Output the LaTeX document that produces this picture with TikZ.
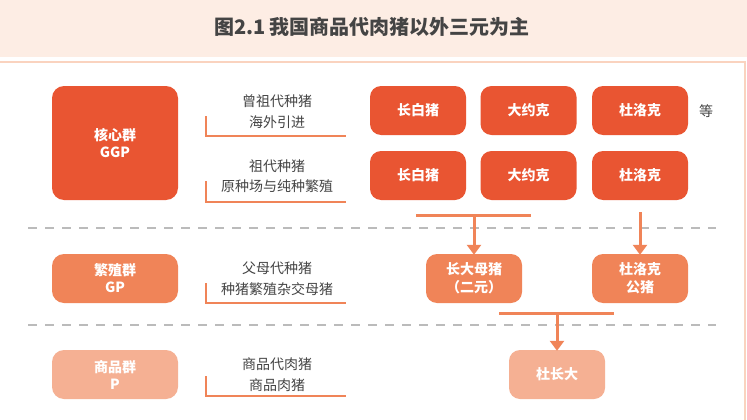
\documentclass[tikz,border=0pt]{standalone}
\usepackage{fontspec}
\setmainfont{Noto Sans CJK SC}
\usetikzlibrary{arrows.meta}
\definecolor{cdark}{HTML}{E95532}
\definecolor{cmid}{HTML}{F08458}
\definecolor{clight}{HTML}{F5B093}
\definecolor{cband}{HTML}{FDEDE4}
\definecolor{cframe}{HTML}{FAD3BF}
\definecolor{ctext}{HTML}{444444}
\definecolor{cdash}{HTML}{BBBBBB}
\tikzset{
  grp/.style={rounded corners=12pt, minimum width=126pt, minimum height=49pt, text=white, font=\bfseries\fontsize{14}{17}\selectfont, align=center, inner sep=0pt},
  pig/.style={rounded corners=11pt, minimum width=96pt, minimum height=49pt, text=white, font=\bfseries\fontsize{14}{18}\selectfont, align=center, inner sep=0pt},
  lbl/.style={text=ctext, font=\fontsize{14}{20.5}\selectfont, align=center, inner sep=0pt},
  brk/.style={draw=cmid, line width=2pt},
  conn/.style={draw=cmid, line width=3pt},
  arr/.style={conn, -{Triangle[width=14pt,length=10pt]}},
  sep/.style={draw=cdash, line width=1.2pt, dash pattern=on 9pt off 8pt},
}
\begin{document}
\begin{tikzpicture}[x=1pt,y=-1pt]
\useasboundingbox (0,0) rectangle (747,420);
\fill[white] (0,0) rectangle (747,420);
% title band
\fill[cband] (0,0) rectangle (747,57);
\node[text=ctext, font=\bfseries\fontsize{20}{24}\selectfont] (title) at (372,27) {图2.1 我国商品代肉猪以外三元为主};
% frame
\draw[cframe, line width=1.5pt] (-2,62) -- (745,62) -- (745,422);
% group boxes
\node[grp, fill=cdark, minimum height=114pt] (ggp) at (115,143) {核心群\\GGP};
\node[grp, fill=cmid] (gp) at (115,278.5) {繁殖群\\GP};
\node[grp, fill=clight] (p) at (115,374.5) {商品群\\P};
% labels
\node[lbl] (l1) at (277,111.5) {曾祖代种猪\\海外引进};
\node[lbl] (l2) at (277,176) {祖代种猪\\原种场与纯种繁殖};
\node[lbl] (l3) at (277,278.5) {父母代种猪\\种猪繁殖杂交母猪};
\node[lbl] (l4) at (277,374.5) {商品代肉猪\\商品肉猪};
\coordinate (b1a) at (206,116); \coordinate (b1b) at (206,136); \coordinate (b1c) at (346,136);
\coordinate (b2a) at (206,181); \coordinate (b2b) at (206,202); \coordinate (b2c) at (346,202);
\coordinate (b3a) at (206,283); \coordinate (b3b) at (206,303); \coordinate (b3c) at (346,303);
\coordinate (b4a) at (206,376); \coordinate (b4b) at (206,396); \coordinate (b4c) at (346,396);
\draw[brk] (b1a) -- (b1b) -- (b1c);
\draw[brk] (b2a) -- (b2b) -- (b2c);
\draw[brk] (b3a) -- (b3b) -- (b3c);
\draw[brk] (b4a) -- (b4b) -- (b4c);
% pig boxes
\node[pig, fill=cdark] (a1) at (418,110.5) {长白猪};
\node[pig, fill=cdark] (a2) at (528.5,110.5) {大约克};
\node[pig, fill=cdark] (a3) at (640,110.5) {杜洛克};
\node[text=ctext, font=\fontsize{14}{16}\selectfont] (deng) at (706,111) {等};
\node[pig, fill=cdark] (c1) at (418,175.5) {长白猪};
\node[pig, fill=cdark] (c2) at (528.5,175.5) {大约克};
\node[pig, fill=cdark] (c3) at (640,175.5) {杜洛克};
\node[pig, fill=cmid] (m1) at (474,278.5) {长大母猪\\（二元）};
\node[pig, fill=cmid] (m2) at (640,278.5) {杜洛克\\公猪};
\node[pig, fill=clight] (f1) at (557,374.5) {杜长大};
% separators
\coordinate (s1l) at (28,228); \coordinate (s1r) at (716,228);
\coordinate (s2l) at (28,325); \coordinate (s2r) at (716,325);
\draw[sep] (s1l) -- (s1r);
\draw[sep] (s2l) -- (s2r);
% connectors
\coordinate (j1l) at (416,215); \coordinate (j1r) at (531,215); \coordinate (j1m) at (m1.north |- j1l);
\draw[conn] (j1l) -- (j1r);
\draw[arr] (j1m) -- ([yshift=-1pt]m1.north);
\coordinate (j2) at (640,212);
\draw[arr] (j2) -- ([yshift=-1pt]m2.north);
\coordinate (j3l) at (499,313); \coordinate (j3r) at (614,313); \coordinate (j3m) at (f1.north |- j3l);
\draw[conn] (j3l) -- (j3r);
\draw[arr] (j3m) -- ([yshift=-1pt]f1.north);
\end{tikzpicture}
\end{document}
